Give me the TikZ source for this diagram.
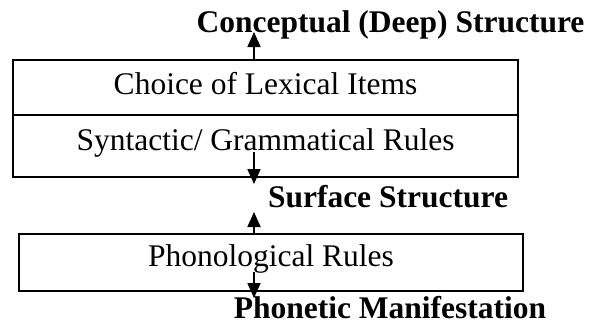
\documentclass[tikz,border=0pt]{standalone}
\usepackage{fontspec}
\setmainfont{Liberation Serif}
\usetikzlibrary{arrows.meta}

\tikzset{
    box/.style={draw, line width=1.6pt, minimum width=505pt, inner sep=0pt},
    txt/.style={anchor=base, inner sep=0pt, font=\fontsize{31.5}{36}\selectfont},
    head/.style={txt, font=\fontsize{31.5}{36}\selectfont\bfseries},
    flow/.style={line width=1.8pt, -{Triangle[width=13pt,length=15pt]}}
}

\begin{document}
\begin{tikzpicture}[x=1pt, y=-1pt]
    \useasboundingbox (0,0) rectangle (589,324);
    \coordinate (axis) at (254,0);

    % Deep structure and the first box
    \node[head] (deep) at (390.5,32) {Conceptual (Deep) Structure};
    \node[box, minimum height=55pt] (lexical) at (265.5,87.5) {};
    \node[box, minimum height=62pt] (syntax) at (265.5,146) {};
    \node[txt] (choice) at (265.5,94) {Choice of Lexical Items};
    \node[txt] (rules) at (265.5,150) {Syntactic/ Grammatical Rules};

    % Surface structure and the second box
    \node[head] (surface) at (388,207) {Surface Structure};
    \node[box, minimum width=504pt, minimum height=57pt] (phonol) at (271,262.5) {};
    \node[txt] (sound) at (271,266) {Phonological Rules};
    \node[head] (phonetic) at (390,318) {Phonetic Manifestation};

    % Arrows
    \coordinate (t1) at (254,184);
    \coordinate (t2) at (254,212);
    \coordinate (t3) at (254,298);
    \draw[flow] (lexical.north -| axis) -- (axis |- deep.base);
    \draw[flow] ([yshift=-2pt]axis |- rules.base) -- (t1);
    \draw[flow] (phonol.north -| axis) -- (t2);
    \draw[flow] ([yshift=-6pt]axis |- sound.base) -- (t3);
\end{tikzpicture}
\end{document}
